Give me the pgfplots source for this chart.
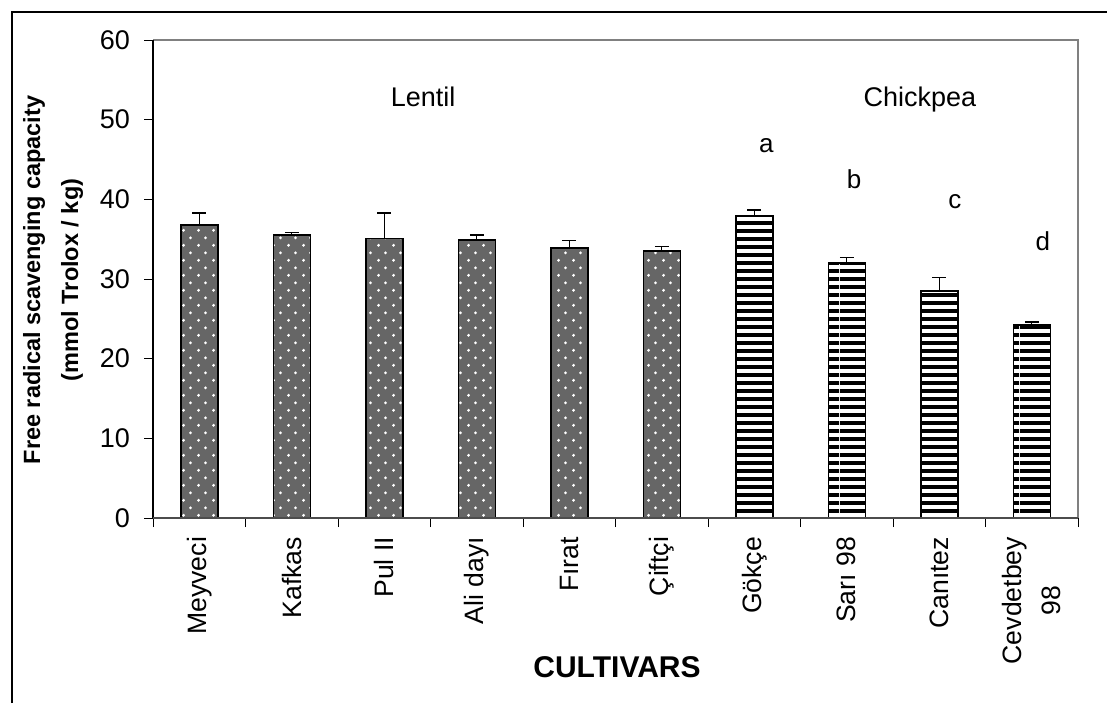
\documentclass[border=0pt]{standalone}
\usepackage{fontspec}
\setmainfont{Liberation Sans}
\usepackage{pgfplots}
\pgfplotsset{compat=1.18}
\usetikzlibrary{patterns.meta}

\tikzdeclarepattern{
  name=sparsedots,
  type=uncolored,
  bottom left={(0pt,0pt)},
  top right={(7.5pt,7.7pt)},
  tile size={(7.5pt,7.7pt)},
  code={
    \fill (1.875pt,1.925pt) circle (0.8pt);
    \fill (5.625pt,5.775pt) circle (0.8pt);
  }
}
\tikzdeclarepattern{
  name=hstripes,
  type=uncolored,
  bottom left={(0pt,0pt)},
  top right={(30pt,3.8pt)},
  tile size={(30pt,3.8pt)},
  code={\fill (0pt,0pt) rectangle (30pt,2.1pt);}
}

\begin{document}
\begin{tikzpicture}
\path[use as bounding box] (0,0) rectangle (553.5pt,351.5pt);
\draw[line width=1pt] (6pt,0) -- (6pt,345.5pt) -- (553.5pt,345.5pt);
\begin{axis}[
  at={(76.5pt,92.5pt)}, anchor=south west,
  scale only axis, width=462.5pt, height=239pt,
  xmin=-0.5, xmax=9.5, ymin=0, ymax=60,
  axis line style={draw=none},
  clip=false,
  tick align=outside,
  xtick pos=left, ytick pos=left,
  major tick length=4.5pt,
  tick style={black, line width=0.5pt},
  ytick={0,10,...,60},
  yticklabel style={font=\fontsize{13.5}{15}\selectfont, xshift=-3.5pt},
  /pgf/number format/assume math mode=true,
  xtick={-0.5,0.5,...,9.5},
  xticklabels={},
  extra x ticks={0,1,2,3,4,5,6,7,8,9},
  extra x tick labels={Meyveci,Kafkas,Pul II,Ali dayı,Fırat,Çiftçi,Gökçe,Sarı 98,Canıtez,{Cevdetbey\\98}},
  extra x tick style={major tick length=0pt, tick style={draw=none},
    xticklabel style={yshift=-6pt, rotate=90, anchor=east, align=center, font=\fontsize{13.3}{19.5}\selectfont}},
]
\addplot[ybar, bar width=18.5pt, bar shift=0pt, draw=black, line width=0.75pt, fill=black!60,
  postaction={pattern={sparsedots}, pattern color=white},
  error bars/.cd, y dir=plus, y explicit,
  error bar style={line width=0.7pt, black},
  error mark options={rotate=90, black, line width=0.7pt, mark size=3.5pt}]
coordinates {(0,36.8) +- (0,1.5) (1,35.5) +- (0,0.3) (2,35.1) +- (0,3.2) (3,34.9) +- (0,0.6) (4,33.9) +- (0,0.9) (5,33.5) +- (0,0.6)};
\addplot[ybar, bar width=18.5pt, bar shift=0pt, draw=black, line width=0.75pt, fill=white,
  postaction={pattern={hstripes}, pattern color=black},
  error bars/.cd, y dir=plus, y explicit,
  error bar style={line width=0.7pt, black},
  error mark options={rotate=90, black, line width=0.7pt, mark size=3.5pt}]
coordinates {(6,38.0) +- (0,0.65) (7,32.0) +- (0,0.7) (8,28.5) +- (0,1.7) (9,24.2) +- (0,0.4)};
\draw[black!50, line width=0.6pt] (rel axis cs:0,1) -- (rel axis cs:1,1) -- (rel axis cs:1,0);
\draw[black, line width=0.6pt] (rel axis cs:0,1) -- (rel axis cs:0,0);
\draw[black!70, line width=0.8pt] (rel axis cs:0,0) -- (rel axis cs:1,0);
\node[anchor=base, font=\fontsize{13.5}{15}\selectfont] at (axis cs:2.42,51.7) {Lentil};
\node[anchor=base, font=\fontsize{13.5}{15}\selectfont] at (axis cs:7.79,51.7) {Chickpea};
\node[anchor=base, font=\fontsize{13}{15}\selectfont] at (axis cs:6.13,45.9) {a};
\node[anchor=base, font=\fontsize{13}{15}\selectfont] at (axis cs:7.08,41.3) {b};
\node[anchor=base, font=\fontsize{13}{15}\selectfont] at (axis cs:8.17,38.8) {c};
\node[anchor=base, font=\fontsize{13}{15}\selectfont] at (axis cs:9.12,33.6) {d};
\end{axis}
\node[rotate=90, align=center, font=\bfseries\fontsize{11.75}{19}\selectfont] at (26.5pt,211.5pt) {Free radical scavenging capacity\\(mmol Trolox / kg)};
\node[anchor=base, font=\bfseries\fontsize{15}{17}\selectfont] at (308.5pt,13pt) {CULTIVARS};
\end{tikzpicture}
\end{document}
